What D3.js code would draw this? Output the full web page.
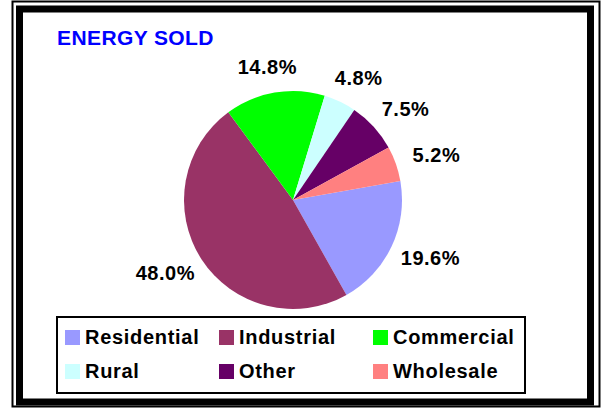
<!DOCTYPE html>
<html lang="en">
<head>
    <meta charset="utf-8">
    <title>Energy Sold</title>
    <script src="https://cdn.jsdelivr.net/npm/d3@7"></script>
    <style type="text/css">
      body{
          margin: 0;
          background-color: white;
      }
      text{
          font-family: Arial, "Liberation Sans", sans-serif;
          font-weight: bold;
      }
    </style>
</head>
<body>
  <script type="text/javascript">
    // chart data
    var categories = ["Residential", "Industrial", "Commercial", "Rural", "Other", "Wholesale"];
    var shares = [19.6, 48.0, 14.8, 4.8, 7.5, 5.2];
    var labels = ["19.6%", "48.0%", "14.8%", "4.8%", "7.5%", "5.2%"];
    var colors = ["#9999ff", "#993366", "#00ff00", "#ccffff", "#660066", "#ff8080"];

    var width = 604, height = 408;
    var cx = 293, cy = 200, radius = 109;

    var svg = d3.select("body").append("svg").attr("width", width).attr("height", height);

    // double frame
    svg.append("rect").attr("x", 12.5).attr("y", 1.5).attr("width", 587).attr("height", 405)
        .attr("fill", "none").attr("stroke", "black").attr("stroke-width", 2);
    svg.append("rect").attr("x", 19.5).attr("y", 9).attr("width", 571).attr("height", 393)
        .attr("fill", "white").attr("stroke", "black").attr("stroke-width", 7);

    // title
    svg.append("text")
        .attr("x", 57).attr("y", 45)
        .style("font-size", "21px")
        .style("letter-spacing", "0.4px")
        .style("fill", "#0000ff")
        .text("ENERGY SOLD");

    var data = categories.map(function(c, i) {
        return {name: c, value: shares[i], label: labels[i], color: colors[i]};
    });

    var pie = d3.pie().sort(null).value(function(d) { return d.value; })
        .startAngle(80 * Math.PI / 180).endAngle(440 * Math.PI / 180);
    var arc = d3.arc().innerRadius(0).outerRadius(radius);

    var g = svg.append("g").attr("transform", "translate(" + cx + "," + cy + ")");
    var arcs = pie(data);

    g.selectAll("path")
        .data(arcs)
        .enter()
        .append("path")
        .attr("d", arc)
        .attr("fill", function(d) { return d.data.color; });

    // percentage labels outside the pie
    var rx = 152, ry = 135;
    g.selectAll("text.pct")
        .data(arcs)
        .enter()
        .append("text")
        .attr("class", "pct")
        .attr("x", function(d) { return rx * Math.sin((d.startAngle + d.endAngle) / 2); })
        .attr("y", function(d) { return -ry * Math.cos((d.startAngle + d.endAngle) / 2); })
        .attr("dy", "0.35em")
        .attr("text-anchor", "middle")
        .style("font-size", "20px")
        .style("letter-spacing", "0.5px")
        .style("fill", "black")
        .text(function(d) { return d.data.label; });

    // legend
    var legend = svg.append("g");
    legend.append("rect").attr("x", 57).attr("y", 317).attr("width", 468).attr("height", 76)
        .attr("fill", "white").attr("stroke", "black").attr("stroke-width", 2);

    var colX = d3.scaleLinear().domain([0, 1]).range([65, 219]);
    var rowY = d3.scaleLinear().domain([0, 1]).range([330, 364]);

    var items = legend.selectAll("g.item")
        .data(data)
        .enter()
        .append("g")
        .attr("class", "item")
        .attr("transform", function(d, i) {
            return "translate(" + colX(i % 3) + "," + rowY(Math.floor(i / 3)) + ")";
        });
    items.append("rect").attr("width", 15).attr("height", 15)
        .attr("fill", function(d) { return d.color; });
    items.append("text").attr("x", 20).attr("y", 14)
        .style("font-size", "20px")
        .style("letter-spacing", "0.7px")
        .style("fill", "black")
        .text(function(d) { return d.name; });
  </script>
</body>
</html>
